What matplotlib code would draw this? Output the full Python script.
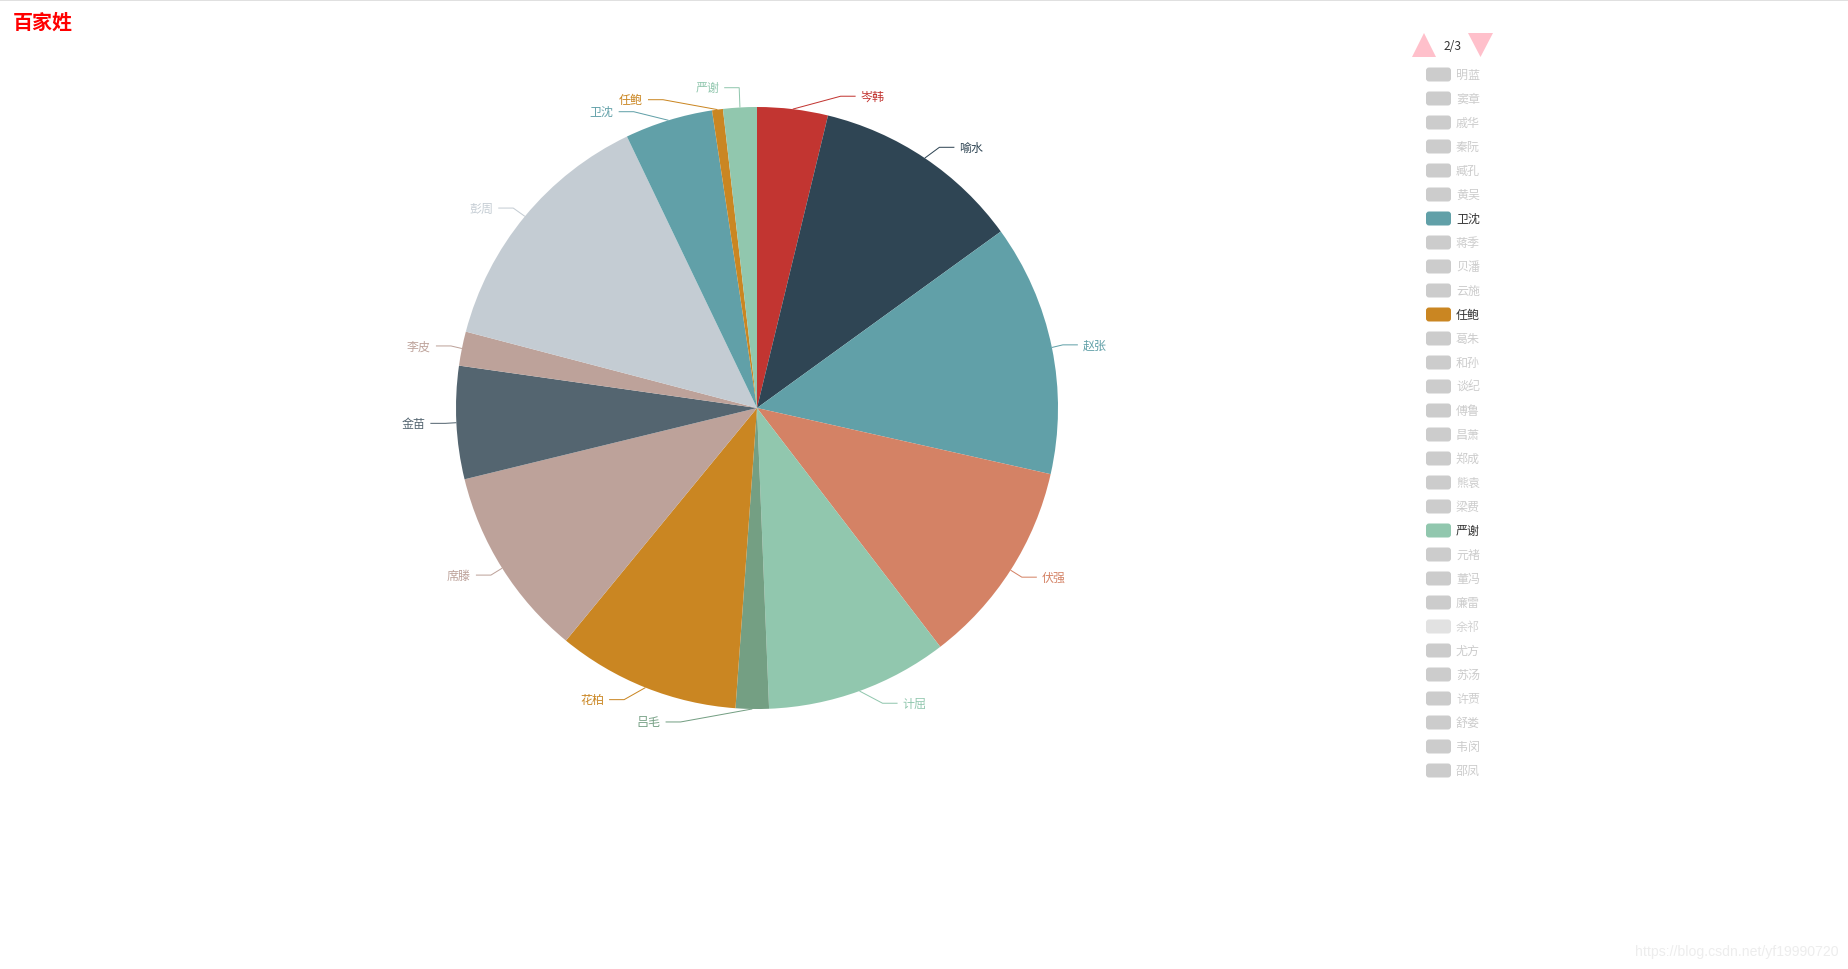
import numpy as np
import matplotlib.pyplot as plt
from matplotlib.patches import FancyBboxPatch, Polygon

plt.rcParams['font.family'] = ['Noto Sans CJK SC', 'DejaVu Sans']

W, H = 1849, 970

# pie data (clockwise from 12 o'clock)
names = ['岑韩', '喻水', '赵张', '伏强', '计屈', '吕毛', '花柏',
         '席滕', '金苗', '李皮', '彭周', '卫沈', '任鲍', '严谢']
values = [37920, 112370, 135010, 110560, 97790, 17780, 98060,
          102510, 60560, 18330, 138070, 47230, 5830, 18060]
colors = ['#c23531', '#2f4554', '#61a0a8', '#d48265', '#91c7ae', '#749f83', '#ca8622',
          '#bda29a', '#546570', '#bda29a', '#c4ccd3', '#61a0a8', '#ca8622', '#91c7ae']

# legend page 2 of 3
legend_names = ['明蓝', '窦章', '戚华', '秦阮', '臧孔', '黄吴', '卫沈', '蒋季', '贝潘', '云施',
                '任鲍', '葛朱', '和孙', '谈纪', '傅鲁', '昌萧', '郑成', '熊袁', '梁费', '严谢',
                '元褚', '董冯', '廉雷', '余祁', '尤方', '苏汤', '许贾', '舒娄', '韦闵', '邵凤']
hover_name = '余祁'
page_text = '2/3'


def pt(p):
    # pixels -> points at 100 dpi
    return p * 0.72


fig = plt.figure(figsize=(W / 100, H / 100), dpi=100)
ax = fig.add_axes([0, 0, 1, 1])

cx, cy, r = 757, H - 409, 301
wedges, _ = ax.pie(values, colors=colors, radius=r, center=(cx, cy),
                   startangle=90, counterclock=False,
                   wedgeprops=dict(linewidth=0))
ax.set_xlim(0, W)
ax.set_ylim(0, H)
ax.set_aspect('equal')
ax.axis('off')

# outside labels with guide lines (echarts-like layout)
L, L2, gap, R_end = 13, 15, 5, 327
labs = []
for w, name, c in zip(wedges, names, colors):
    th = np.deg2rad((w.theta1 + w.theta2) / 2)
    d = 1 if np.cos(th) >= 0 else -1
    labs.append(dict(name=name, c=c, th=th, d=d, y=cy + (r + L) * np.sin(th)))

for side in (1, -1):
    grp = sorted([l for l in labs if l['d'] == side], key=lambda l: -l['y'])
    for _ in range(300):
        moved = False
        for a, b in zip(grp, grp[1:]):
            over = 12 - (a['y'] - b['y'])
            if over > 1e-3:
                a['y'] += over / 2
                b['y'] -= over / 2
                moved = True
        if not moved:
            break

for l in labs:
    th, d, y, c = l['th'], l['d'], l['y'], l['c']
    dy = y - cy
    if abs(dy) < r + L:
        xe = cx + d * np.sqrt(R_end ** 2 - dy ** 2)
    else:
        xe = cx + (r + L) * np.cos(th) + d * L2
    x0, y0 = cx + r * np.cos(th), cy + r * np.sin(th)
    ax.plot([x0, xe - d * L2, xe], [y0, y, y], color=c, lw=pt(1), solid_capstyle='butt')
    ax.text(xe + d * gap, y, l['name'], color=c, fontsize=pt(12),
            ha='left' if d > 0 else 'right', va='center')

# title
ax.text(13, H - 22, '百家姓', color='#ff0000', fontsize=pt(20),
        fontweight='bold', ha='left', va='center')

# top border line
ax.plot([0, W], [H - 0.8, H - 0.8], color='#d9d9d9', lw=pt(1.6))

# scroll legend
ax.add_patch(Polygon([(1412, H - 58), (1436, H - 58), (1424, H - 34)],
                     closed=True, fc='#ffc0cb', ec='none'))
ax.add_patch(Polygon([(1468, H - 34), (1493, H - 34), (1480.5, H - 58)],
                     closed=True, fc='#ffc0cb', ec='none'))
ax.text(1452.5, H - 46, page_text, color='#333333', fontsize=pt(12),
        ha='center', va='center')

lx, ly0, step = 1426, 75.5, 24
for i, n in enumerate(legend_names):
    y = H - (ly0 + i * step)
    if n in names:
        fc, tc = colors[names.index(n)], '#333333'
    elif n == hover_name:
        fc, tc = '#e2e2e2', '#d2d2d2'
    else:
        fc, tc = '#cccccc', '#cccccc'
    ax.add_patch(FancyBboxPatch((lx, y - 7), 25, 14,
                                boxstyle='round,pad=0,rounding_size=3',
                                fc=fc, ec='none'))
    ax.text(1456, y, n, color=tc, fontsize=pt(12), ha='left', va='center')

# watermark
ax.text(1838, H - 952, 'https://blog.csdn.net/yf19990720', color='#ededed',
        fontsize=pt(14), family='Liberation Sans', ha='right', va='center')

fig.savefig('out.png', dpi=100)
